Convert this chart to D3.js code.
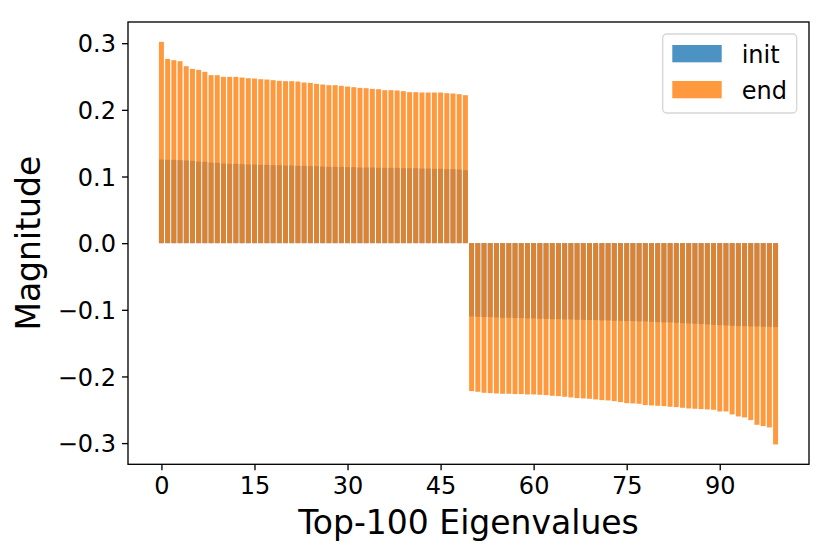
<!DOCTYPE html>
<html>
<head>
<meta charset="utf-8">
<script src="https://cdn.jsdelivr.net/npm/d3@7"></script>
<style>
  html, body { margin: 0; padding: 0; background: #fff; }
  svg { display: block; font-family: "DejaVu Sans", sans-serif; }
</style>
</head>
<body>
<svg id="chart" width="831" height="557"></svg>
<script>
// ---- data ----
const seriesNames = ["init", "end"];
const initValues = [
  0.1255, 0.1250, 0.1250, 0.1245, 0.1240, 0.1235, 0.1225, 0.1220, 0.1210, 0.1205,
  0.1195, 0.1190, 0.1190, 0.1185, 0.1180, 0.1180, 0.1175, 0.1175, 0.1170, 0.1170,
  0.1165, 0.1165, 0.1160, 0.1160, 0.1155, 0.1155, 0.1150, 0.1145, 0.1145, 0.1145,
  0.1140, 0.1140, 0.1135, 0.1135, 0.1135, 0.1130, 0.1130, 0.1130, 0.1130, 0.1125,
  0.1125, 0.1125, 0.1120, 0.1120, 0.1115, 0.1115, 0.1110, 0.1110, 0.1105, 0.1095,
  -0.1100, -0.1105, -0.1110, -0.1110, -0.1115, -0.1120, -0.1120, -0.1125, -0.1125, -0.1130,
  -0.1130, -0.1135, -0.1135, -0.1140, -0.1140, -0.1145, -0.1145, -0.1150, -0.1150, -0.1155,
  -0.1155, -0.1160, -0.1160, -0.1165, -0.1165, -0.1170, -0.1170, -0.1175, -0.1175, -0.1180,
  -0.1185, -0.1190, -0.1190, -0.1195, -0.1200, -0.1205, -0.1210, -0.1215, -0.1220, -0.1225,
  -0.1230, -0.1235, -0.1240, -0.1245, -0.1245, -0.1250, -0.1250, -0.1255, -0.1255, -0.1260
];
const endValues = [
  0.3020, 0.2765, 0.2745, 0.2730, 0.2655, 0.2615, 0.2600, 0.2570, 0.2520, 0.2520,
  0.2495, 0.2495, 0.2495, 0.2485, 0.2475, 0.2470, 0.2460, 0.2455, 0.2445, 0.2435,
  0.2430, 0.2430, 0.2425, 0.2410, 0.2405, 0.2390, 0.2380, 0.2370, 0.2370, 0.2360,
  0.2350, 0.2340, 0.2330, 0.2325, 0.2315, 0.2310, 0.2295, 0.2295, 0.2290, 0.2280,
  0.2265, 0.2265, 0.2260, 0.2260, 0.2260, 0.2260, 0.2250, 0.2245, 0.2235, 0.2220,
  -0.2220, -0.2230, -0.2245, -0.2250, -0.2255, -0.2260, -0.2260, -0.2265, -0.2265, -0.2270,
  -0.2270, -0.2275, -0.2280, -0.2290, -0.2295, -0.2305, -0.2315, -0.2325, -0.2330, -0.2335,
  -0.2345, -0.2355, -0.2360, -0.2370, -0.2385, -0.2400, -0.2405, -0.2410, -0.2430, -0.2435,
  -0.2440, -0.2445, -0.2455, -0.2460, -0.2470, -0.2480, -0.2485, -0.2490, -0.2495, -0.2500,
  -0.2525, -0.2525, -0.2570, -0.2600, -0.2615, -0.2655, -0.2725, -0.2745, -0.2765, -0.3020
];
const xTicks = [0, 15, 30, 45, 60, 75, 90];
const yTicks = [-0.3, -0.2, -0.1, 0.0, 0.1, 0.2, 0.3];
const xLabel = "Top-100 Eigenvalues";
const yLabel = "Magnitude";

(function () {
  // ---- layout ----
  const colors = { init: "#1f77b4", end: "#ff7f0e" };
  const alpha = 0.8;
  const plotL = 128, plotR = 809, plotT = 22, plotB = 464.3;
  const barWidth = 0.8;

  const svg = d3.select("#chart");
  const n = initValues.length;
  const x = d3.scaleLinear().domain([-5.39, (n - 1) + 5.39]).range([plotL, plotR]);
  const ymax = 0.3318;
  const y = d3.scaleLinear().domain([-ymax, ymax]).range([plotB, plotT]);

  const data = { init: initValues, end: endValues };

  // bars: init first, end on top
  seriesNames.forEach(name => {
    svg.append("g")
      .selectAll("rect")
      .data(data[name])
      .join("rect")
      .attr("x", (d, i) => x(i - barWidth / 2))
      .attr("width", (d, i) => x(i + barWidth / 2) - x(i - barWidth / 2))
      .attr("y", d => y(Math.max(0, d)))
      .attr("height", d => Math.abs(y(d) - y(0)))
      .attr("fill", colors[name])
      .attr("fill-opacity", alpha);
  });

  // axes
  const fmt = v => (v < 0 ? "\u2212" : "") + Math.abs(v).toFixed(1);
  const xAxis = d3.axisBottom(x).tickValues(xTicks).tickSize(6).tickPadding(6).tickFormat(d3.format("d"));
  const yAxis = d3.axisLeft(y).tickValues(yTicks).tickSize(6).tickPadding(6).tickFormat(fmt);

  const gx = svg.append("g").attr("transform", `translate(0,${plotB})`).call(xAxis);
  const gy = svg.append("g").attr("transform", `translate(${plotL},0)`).call(yAxis);
  [gx, gy].forEach(g => {
    g.select(".domain").remove();
    g.selectAll(".tick line").attr("stroke", "#000").attr("stroke-width", 1.33);
    g.selectAll(".tick text").attr("fill", "#000").style("font-size", "24px")
      .style("font-family", "'DejaVu Sans', sans-serif");
  });
  gx.selectAll(".tick text").attr("dy", "0.72em");
  gy.selectAll(".tick text").attr("dy", "0.36em");

  // spines
  svg.append("rect")
    .attr("x", plotL).attr("y", plotT)
    .attr("width", plotR - plotL).attr("height", plotB - plotT)
    .attr("fill", "none").attr("stroke", "#000").attr("stroke-width", 1.33);

  // axis labels
  svg.append("text")
    .attr("x", (plotL + plotR) / 2).attr("y", 534.3)
    .attr("text-anchor", "middle")
    .style("font-size", "33px")
    .text(xLabel);
  svg.append("text")
    .attr("transform", `translate(40,${(plotT + plotB) / 2}) rotate(-90)`)
    .attr("text-anchor", "middle")
    .style("font-size", "33px")
    .text(yLabel);

  // legend
  const lg = svg.append("g");
  lg.append("rect")
    .attr("x", 662.7).attr("y", 34).attr("width", 134).attr("height", 79)
    .attr("rx", 4).attr("ry", 4)
    .attr("fill", "#fff").attr("fill-opacity", 0.8)
    .attr("stroke", "#cccccc").attr("stroke-opacity", 0.8).attr("stroke-width", 1.33);
  seriesNames.forEach((name, i) => {
    const yy = 45 + i * 36;
    lg.append("rect")
      .attr("x", 672.3).attr("y", yy).attr("width", 49.4).attr("height", 17.3)
      .attr("fill", colors[name]).attr("fill-opacity", alpha);
    lg.append("text")
      .attr("x", 741.7).attr("y", yy + 17.6)
      .style("font-size", "24px")
      .text(name);
  });
})();
</script>
</body>
</html>
